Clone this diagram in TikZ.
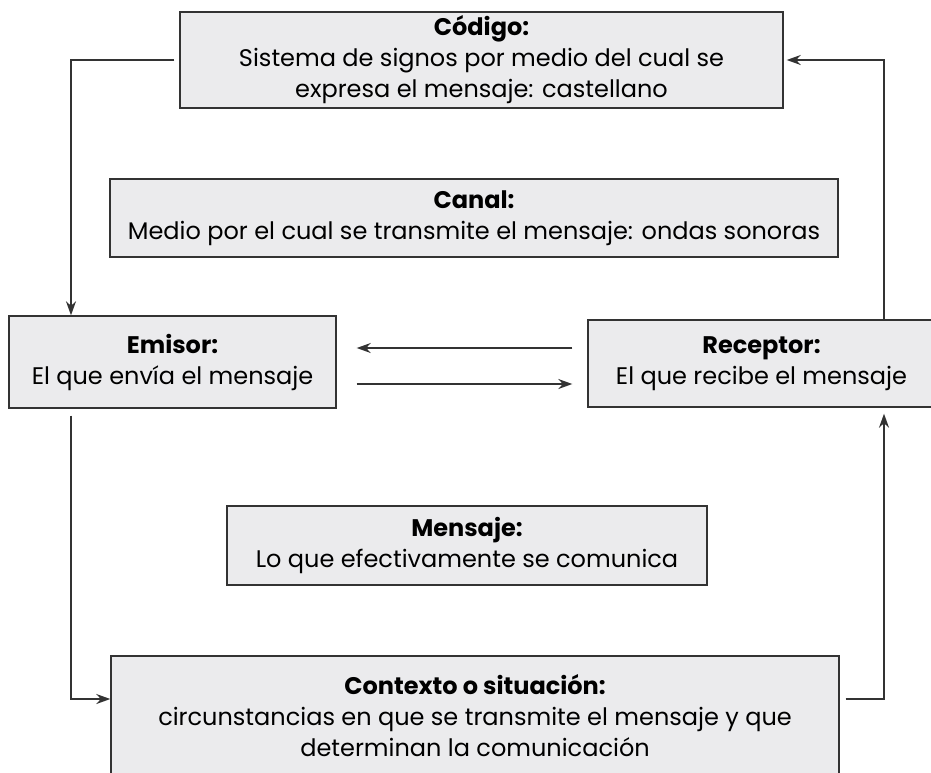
\documentclass[tikz,border=0pt]{standalone}
\usepackage{fontspec}
\setmainfont{Poppins}
\usepackage{tikz}
\usetikzlibrary{positioning, arrows.meta}
\definecolor{boxfill}{HTML}{EBEBED}
\definecolor{boxline}{HTML}{333333}
\tikzset{
	elem/.style={rectangle, draw=boxline, fill=boxfill, line width=1.4pt, align=center, inner sep=0pt, font=\fontsize{24}{31}\selectfont},
	conn/.style={-{Stealth[length=14pt, width=10pt]}, line width=1.4pt, draw=boxline}
}

\begin{document}
\begin{tikzpicture}[
		x=1pt, y=-1pt
		]
		\useasboundingbox (0,0) rectangle (931,772);
		\clip (0,0) rectangle (931,772);
		
		\node[elem, minimum width=603pt, minimum height=96pt] (codigo) at (481.5,60) {\textbf{Código:}\\ Sistema de signos por medio del cual se\\ expresa el mensaje: castellano};
		\node[elem, minimum width=728pt, minimum height=78pt] (canal) at (474,218) {\textbf{Canal:}\\ Medio por el cual se transmite el mensaje: ondas sonoras};
		\node[elem, minimum width=327pt, minimum height=92pt] (emisor) at (172.5,362) {\textbf{Emisor:}\\ El que envía el mensaje};
		\node[elem, minimum width=347pt, minimum height=87pt] (receptor) at (761.5,363.5) {\textbf{Receptor:}\\ El que recibe el mensaje};
		\node[elem, minimum width=480pt, minimum height=79pt] (mensaje) at (467,545.5) {\textbf{Mensaje:}\\ Lo que efectivamente se comunica};
		\node[elem, minimum width=728pt, minimum height=120pt] (contexto) at (475,716) {\textbf{Contexto o situación:}\\ circunstancias en que se transmite el mensaje y que\\ determinan la comunicación};
		
		\draw[conn, shorten <=5pt] (codigo.west) -| ([xshift=-101.5pt]emisor.north);
		\draw[conn, shorten >=3pt] ([xshift=122.5pt]receptor.north) |- (codigo.east);
		\draw[conn, shorten <=15pt, shorten >=20pt] ([yshift=15.5pt]receptor.west) -- ([yshift=15.5pt]receptor.west -| emisor.east);
		\draw[conn, shorten <=20pt, shorten >=15pt] ([yshift=-20.5pt]receptor.west -| emisor.east) -- ([yshift=-20.5pt]receptor.west);
		\draw[conn, shorten <=7pt] ([xshift=-101.5pt]emisor.south) |- ([yshift=17pt]contexto.west);
		\draw[conn, shorten <=6pt, shorten >=6pt] ([yshift=17pt]contexto.east) -| ([xshift=122.5pt]receptor.south);
	\end{tikzpicture}
\end{document}
